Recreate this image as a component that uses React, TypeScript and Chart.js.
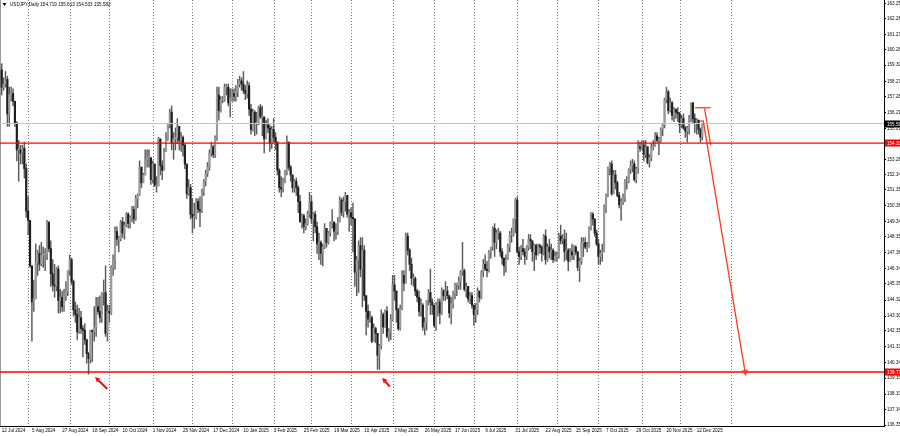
import React, { useEffect, useRef } from "react";
import { Chart, registerables } from "chart.js";

Chart.register(...registerables);

// ---- Data (daily USDJPY bars, 12 Jul 2024 .. 17 Dec 2025) ----
const FIRST_OPEN = 159.0;

const closes = [
  157.9, 158.1, 158.4, 156.2, 157.4, 157.5,
  157.0, 155.6, 153.9, 153.9, 153.7,
  154.0, 152.7, 150.0, 149.4, 146.5,
  144.2, 144.4, 146.7, 147.3, 146.6,
  147.2, 147.2, 147.3, 149.3, 147.6,
  146.0, 145.3, 145.2, 146.3, 144.3,
  144.5, 143.9, 144.6, 144.9, 146.2,
  146.9, 145.5, 143.7, 143.4, 142.3,
  143.2, 142.5, 142.4, 141.8, 140.9,
  140.6, 142.4, 142.3, 142.6, 143.9,
  143.6, 143.2, 144.8, 144.8, 142.2,
  143.6, 143.5, 146.4, 146.9, 148.7,
  148.2, 148.2, 149.3, 148.6, 149.1,
  149.8, 149.2, 149.6, 150.1, 149.5,
  150.8, 151.0, 152.8, 151.8, 152.3,
  153.3, 153.4, 153.4, 152.0, 153.0,
  151.6, 151.6, 154.6, 152.9, 152.6,
  153.8, 154.6, 155.5, 156.3, 154.3,
  154.6, 154.7, 155.4, 154.5, 154.7,
  154.2, 153.0, 151.1, 151.5, 149.8,
  149.6, 149.6, 150.6, 150.1, 150.0,
  151.2, 151.9, 152.4, 152.8, 153.7,
  154.1, 153.6, 154.7, 157.4, 156.4,
  157.1, 157.1, 157.9, 157.9,
  156.9, 157.2,
  157.5, 157.3,
  157.6, 158.1, 158.3, 158.1, 157.7,
  157.5, 158.0, 156.5, 155.2, 156.3,
  155.6, 155.6, 156.6, 156.0, 156.0,
  154.6, 155.5, 155.3, 154.3, 155.2,
  154.7, 154.4, 152.6, 151.5, 151.4,
  151.9, 152.5, 154.4, 152.8, 152.3,
  151.5, 151.9, 151.5, 150.6, 149.3,
  149.7, 149.0, 149.2, 149.8, 150.6,
  149.5, 149.8, 149.0, 147.9, 148.0,
  147.3, 147.7, 148.9, 148.0, 148.6,
  149.2, 149.3, 148.7, 148.7, 149.3,
  150.7, 149.9, 150.6, 151.0, 149.8,
  149.9, 149.6, 149.5, 146.1, 146.9,
  147.8, 146.3, 147.5, 144.6, 143.6,
  143.1, 143.2, 141.7, 142.5, 142.2,
  140.8, 141.4, 143.4, 142.6, 143.6,
  142.0, 142.3, 143.1, 145.3, 144.9,
  143.7, 142.5, 143.8, 145.9, 145.4,
  148.4, 147.5, 146.6, 145.7, 145.7,
  144.9, 144.5, 143.6, 144.0, 142.6,
  142.9, 144.3, 144.8, 144.2, 144.0,
  142.7, 144.0, 144.2, 143.5, 144.9,
  144.6, 144.9, 144.6, 143.5, 144.1,
  144.8, 145.3, 145.3, 145.5, 146.1,
  146.2, 145.0, 145.2, 144.4, 144.6,
  144.0, 143.4, 143.7, 144.9, 144.5,
  146.1, 146.6, 146.3, 146.2, 147.4,
  147.7, 148.9, 148.0, 148.6, 148.6,
  147.4, 147.0, 146.5, 146.9, 147.7,
  148.5, 148.5, 149.5, 150.7, 147.4,
  147.1, 147.6, 147.4, 147.1, 147.7,
  148.2, 148.1, 147.4, 147.8, 147.2,
  147.8, 147.7, 147.3, 148.4, 146.9,
  147.7, 147.4, 147.5, 146.9, 147.1,
  147.1, 148.4, 148.1, 148.2, 147.4,
  147.5, 146.8, 147.4, 147.2, 147.7,
  147.4, 146.4, 146.8, 148.0, 148.0,
  147.7, 147.7, 148.9, 149.8, 149.5,
  148.6, 147.9, 147.1, 147.3, 147.4,
  150.3, 151.0, 152.7, 153.0, 151.1,
  152.3, 151.8, 151.0, 150.4, 150.6,
  150.8, 151.9, 151.9, 152.6, 152.9,
  153.0, 152.0, 152.7, 154.1, 154.0,
  154.2, 153.6, 154.1, 153.1, 153.4,
  154.1, 154.1, 154.8, 154.5, 154.5,
  155.2, 155.5, 157.1, 157.6, 156.4,
  156.9, 156.1, 156.5, 156.3, 156.2,
  155.5, 155.9, 155.3, 155.1, 155.3,
  155.9, 156.9, 155.9, 155.6, 155.8,
  155.2, 154.719, 155.582,
];

const highs = [
  159.4, 158.5, 158.9, 158.6, 157.9, 157.9,
  157.8, 157.0, 155.7, 154.5, 154.2,
  154.2, 154.4, 153.0, 150.9, 149.4,
  146.5, 145.6, 147.9, 147.5, 147.8,
  148.0, 147.7, 147.6, 149.4, 149.1,
  148.1, 146.9, 146.6, 146.4, 146.5,
  145.0, 144.9, 145.0, 145.5, 146.2,
  147.2, 147.0, 145.6, 144.2, 144.0,
  143.8, 143.6, 142.7, 142.8, 141.8,
  141.0, 142.4, 142.4, 143.9, 144.5,
  144.5, 144.6, 144.8, 145.6, 146.5,
  144.0, 144.0, 146.5, 147.2, 149.0,
  149.0, 148.4, 149.4, 149.6, 149.3,
  149.9, 149.9, 149.7, 150.3, 150.3,
  151.0, 151.1, 153.2, 152.7, 152.4,
  153.9, 153.9, 153.9, 153.4, 153.2,
  152.7, 152.2, 154.7, 154.6, 153.2,
  154.0, 155.0, 155.6, 156.5, 156.7,
  155.0, 155.3, 155.9, 155.0, 155.0,
  154.8, 154.3, 153.0, 152.0, 151.7,
  150.8, 150.5, 150.8, 150.8, 150.9,
  151.4, 152.0, 152.6, 153.1, 153.9,
  154.4, 154.2, 154.8, 157.9, 157.9,
  157.3, 157.3, 158.1, 158.1,
  158.1, 157.8,
  157.8, 157.8,
  158.0, 158.4, 158.6, 158.5, 158.9,
  158.0, 158.3, 158.2, 156.8, 156.5,
  156.4, 156.3, 156.7, 156.8, 156.7,
  155.9, 155.8, 155.9, 155.5, 155.4,
  155.9, 155.0, 154.4, 152.7, 152.2,
  152.1, 152.6, 154.8, 154.3, 152.9,
  152.1, 152.0, 152.1, 151.6, 151.0,
  149.8, 149.8, 149.5, 150.0, 151.2,
  151.0, 149.9, 150.0, 149.3, 148.6,
  148.1, 147.9, 149.2, 148.9, 148.7,
  149.3, 150.1, 149.2, 149.2, 149.6,
  150.9, 150.8, 150.9, 151.2, 151.0,
  150.1, 150.2, 150.5, 149.3, 147.1,
  148.1, 148.3, 148.3, 147.8, 144.4,
  144.0, 143.6, 143.3, 142.8, 142.6,
  141.8, 141.5, 143.7, 143.5, 143.7,
  143.9, 142.5, 143.4, 145.9, 145.9,
  144.8, 143.8, 144.0, 146.2, 146.2,
  148.6, 148.6, 147.6, 147.0, 146.0,
  145.8, 145.0, 144.9, 144.4, 144.1,
  143.2, 144.3, 145.0, 146.3, 144.4,
  144.0, 144.2, 144.4, 144.4, 145.1,
  145.0, 145.5, 145.2, 144.6, 144.5,
  144.9, 145.4, 145.4, 145.8, 146.2,
  148.0, 146.3, 145.4, 145.2, 144.8,
  144.8, 144.0, 144.1, 145.1, 144.9,
  146.2, 146.9, 147.2, 146.8, 147.5,
  147.7, 149.0, 149.2, 148.8, 148.9,
  148.7, 147.6, 147.0, 147.2, 147.9,
  148.7, 148.9, 149.5, 150.8, 150.9,
  147.7, 147.8, 148.2, 147.6, 147.8,
  148.5, 148.5, 148.1, 147.9, 147.9,
  147.9, 147.9, 147.8, 148.5, 148.8,
  147.9, 148.2, 147.9, 147.6, 147.4,
  147.4, 148.6, 149.1, 148.5, 148.8,
  148.6, 147.6, 147.6, 147.9, 147.8,
  147.8, 147.4, 147.0, 148.3, 148.3,
  148.3, 148.0, 149.0, 149.9, 149.9,
  149.5, 148.8, 148.2, 147.5, 147.9,
  150.4, 151.1, 152.8, 153.1, 153.2,
  152.6, 152.6, 151.9, 151.2, 150.8,
  151.1, 152.0, 152.2, 152.7, 153.2,
  153.3, 153.2, 152.8, 154.5, 154.4,
  154.5, 154.5, 154.5, 154.1, 153.6,
  154.3, 154.5, 155.0, 155.0, 154.7,
  155.3, 155.6, 157.2, 157.9, 157.7,
  157.2, 157.0, 156.6, 156.5, 156.6,
  156.3, 156.1, 156.2, 155.4, 155.4,
  156.1, 156.9, 156.9, 156.2, 155.9,
  155.8, 155.3, 155.613,
];

const lows = [
  157.4, 157.7, 157.9, 155.4, 155.4, 157.0,
  156.7, 155.4, 153.2, 151.9, 153.0,
  153.0, 152.1, 149.6, 148.5, 146.4,
  141.7, 143.6, 144.4, 145.9, 146.2,
  146.5, 146.4, 146.2, 146.9, 147.4,
  145.2, 144.9, 144.5, 144.9, 143.5,
  143.5, 143.6, 143.6, 144.3, 144.6,
  145.9, 145.3, 143.3, 142.9, 141.8,
  142.2, 142.2, 140.7, 141.5, 140.3,
  139.6, 140.3, 140.4, 141.7, 142.0,
  143.4, 142.9, 142.9, 144.0, 142.0,
  141.7, 142.9, 143.4, 145.9, 146.3,
  147.8, 147.4, 148.1, 148.3, 148.2,
  149.0, 148.9, 148.9, 149.3, 149.2,
  149.4, 150.2, 151.1, 151.5, 151.8,
  152.6, 152.8, 152.8, 151.7, 151.8,
  151.6, 151.2, 151.6, 152.3, 152.0,
  152.8, 153.8, 154.5, 155.3, 153.9,
  153.3, 153.9, 154.3, 153.9, 153.8,
  153.5, 152.7, 150.8, 151.0, 149.5,
  148.6, 148.9, 149.5, 149.9, 149.0,
  149.9, 151.0, 151.6, 152.2, 152.6,
  153.5, 153.4, 153.4, 154.5, 155.8,
  156.3, 156.9, 157.0, 157.4,
  156.7, 156.0,
  157.0, 157.0,
  157.0, 157.3, 157.9, 157.7, 157.5,
  157.1, 157.2, 156.1, 154.9, 155.1,
  154.8, 154.9, 155.5, 155.9, 154.8,
  153.7, 154.6, 155.0, 153.8, 154.0,
  154.4, 153.9, 152.3, 151.2, 150.9,
  151.2, 151.8, 152.3, 152.6, 151.9,
  151.2, 151.2, 151.0, 149.9, 149.3,
  148.9, 148.6, 148.8, 149.1, 149.6,
  149.2, 148.1, 148.6, 147.3, 146.9,
  146.6, 146.5, 147.6, 147.7, 147.9,
  148.4, 148.9, 148.1, 148.2, 148.5,
  149.3, 149.7, 149.6, 150.0, 149.6,
  148.7, 149.1, 147.4, 145.2, 144.6,
  144.8, 145.8, 143.9, 144.3, 142.1,
  142.6, 142.9, 141.6, 141.7, 141.6,
  139.9, 139.9, 141.2, 142.2, 142.6,
  141.9, 141.7, 141.8, 143.0, 144.3,
  142.9, 142.4, 142.4, 143.7, 144.9,
  145.6, 147.2, 146.2, 145.3, 145.2,
  144.6, 144.2, 143.3, 143.3, 142.4,
  142.1, 142.4, 144.0, 143.4, 143.4,
  142.6, 142.4, 143.3, 142.8, 143.4,
  144.3, 144.3, 144.4, 143.2, 142.8,
  143.8, 144.4, 144.6, 145.0, 145.0,
  145.9, 144.9, 144.5, 144.2, 144.1,
  143.8, 142.7, 142.9, 143.4, 144.2,
  144.4, 145.8, 146.2, 145.8, 146.1,
  147.0, 147.5, 147.1, 147.6, 148.2,
  147.1, 146.6, 145.9, 146.1, 146.9,
  147.4, 148.0, 148.4, 148.6, 147.3,
  146.6, 146.9, 147.2, 146.6, 146.9,
  147.5, 147.6, 146.8, 146.2, 146.9,
  147.2, 147.3, 146.8, 147.2, 146.6,
  146.8, 147.0, 146.9, 146.7, 146.8,
  146.8, 147.0, 147.9, 147.9, 146.8,
  146.9, 146.2, 146.9, 146.9, 146.9,
  147.2, 146.2, 145.5, 146.6, 147.1,
  147.6, 147.4, 147.7, 148.8, 149.1,
  148.4, 147.8, 146.6, 146.6, 146.8,
  148.9, 149.9, 150.9, 152.3, 151.0,
  151.5, 151.4, 150.9, 150.2, 149.4,
  150.4, 150.6, 151.4, 151.8, 152.4,
  152.5, 151.9, 151.8, 152.4, 153.8,
  153.9, 153.2, 153.4, 153.0, 152.8,
  153.2, 153.9, 154.1, 154.4, 153.6,
  154.4, 154.8, 155.3, 156.9, 156.2,
  156.3, 155.8, 155.7, 155.9, 155.7,
  155.0, 155.3, 155.2, 154.7, 154.4,
  154.9, 155.7, 155.6, 155.0, 154.9,
  154.9, 154.4, 154.533,
];

// time axis labels (one every 16 daily bars, starting at bar 0)
const xTickLabels = [
  "12 Jul 2024", "5 Aug 2024", "27 Aug 2024", "18 Sep 2024", "10 Oct 2024",
  "1 Nov 2024", "25 Nov 2024", "17 Dec 2024", "10 Jan 2025", "3 Feb 2025",
  "25 Feb 2025", "19 Mar 2025", "10 Apr 2025", "2 May 2025", "26 May 2025",
  "17 Jun 2025", "9 Jul 2025", "31 Jul 2025", "22 Aug 2025", "15 Sep 2025",
  "7 Oct 2025", "29 Oct 2025", "20 Nov 2025", "12 Dec 2025",
];
const LABEL_STEP = 16;
// bar index of first trading day of each month (grid separators)
const monthStartBars = [14, 36, 57, 80, 101, 122, 144, 164, 185, 207, 229, 250, 273, 294, 316, 339, 359, 386];

// price axis labels
const priceTicks = [
  163.25, 162.26, 161.27, 160.28, 159.3, 158.27, 157.28, 156.29, 155.27,
  153.28, 152.34, 151.35, 150.36, 149.34, 148.35, 147.36, 146.34, 145.35,
  144.32, 143.3, 142.35, 141.33, 140.34, 139.35, 138.33, 137.34, 136.35,
];

const TITLE = "USDJPY,Daily 154.719 155.613 154.533 155.582";
const bidPrice = 155.58;
const levelPrices = [154.33, 139.73];

// drawn objects (bar index, price)
const trendSegments = [
  [[367.1, 156.59], [375.4, 156.59]],
  [[372.2, 156.55], [375.4, 154.21]],
  [[369.4, 155.74], [371.9, 155.74]],
];
const arrowObjects = [
  { from: [371.5, 155.74], to: [394.0, 139.48], width: 1.3, head: 6, color: "#ff3a1a" },
  { from: [55.9, 138.65], to: [49.4, 139.41], width: 2, head: 5, color: "#ff0000" },
  { from: [205.5, 138.8], to: [201.5, 139.37], width: 2, head: 5, color: "#ff0000" },
];

const FONT = "'Liberation Sans', Arial, sans-serif";
const FS = 4.6;

export default function App() {
  const ref = useRef<HTMLCanvasElement | null>(null);

  useEffect(() => {
    const canvas = ref.current;
    if (!canvas) return;

    const candles = closes.map((c, i) => {
      const o = i === 0 ? FIRST_OPEN : closes[i - 1];
      return {
        x: i,
        o,
        c,
        h: Math.max(highs[i], o, c),
        l: Math.min(lows[i], o, c),
      };
    });

    const X_MIN = -0.9;
    const X_MAX = 467.2;

    const hLine = (price: number, color: string, width: number) => ({
      type: "line" as const,
      data: [
        { x: X_MIN - 5, y: price },
        { x: X_MAX + 5, y: price },
      ],
      borderColor: color,
      borderWidth: width,
      pointRadius: 0,
      order: 0,
    });

    const overlay = {
      id: "overlay",
      beforeDatasetsDraw(chart: any) {
        const { ctx, chartArea, scales } = chart;
        const x = scales.x;
        ctx.save();
        ctx.strokeStyle = "#7a7a7a";
        ctx.lineWidth = 1;
        ctx.setLineDash([1, 2]);
        for (const b of monthStartBars) {
          const px = Math.round(x.getPixelForValue(b)) + 0.5;
          ctx.beginPath();
          ctx.moveTo(px, chartArea.top);
          ctx.lineTo(px, chartArea.bottom);
          ctx.stroke();
        }
        ctx.setLineDash([]);
        ctx.strokeStyle = "#9a9a9a";
        ctx.beginPath();
        ctx.moveTo(0.5, chartArea.top);
        ctx.lineTo(0.5, chartArea.bottom);
        ctx.stroke();
        ctx.restore();
      },
      afterDatasetsDraw(chart: any) {
        const { ctx, scales } = chart;
        const x = scales.x;
        const y = scales.y;
        ctx.save();
        for (const a of arrowObjects) {
          const x1 = x.getPixelForValue(a.from[0]);
          const y1 = y.getPixelForValue(a.from[1]);
          const x2 = x.getPixelForValue(a.to[0]);
          const y2 = y.getPixelForValue(a.to[1]);
          const ang = Math.atan2(y2 - y1, x2 - x1);
          const hx = x2 - Math.cos(ang) * a.head;
          const hy = y2 - Math.sin(ang) * a.head;
          ctx.strokeStyle = a.color;
          ctx.fillStyle = a.color;
          ctx.lineWidth = a.width;
          ctx.beginPath();
          ctx.moveTo(x1, y1);
          ctx.lineTo(hx, hy);
          ctx.stroke();
          const w = a.head * 0.5;
          ctx.beginPath();
          ctx.moveTo(x2, y2);
          ctx.lineTo(hx + Math.sin(ang) * w, hy - Math.cos(ang) * w);
          ctx.lineTo(hx - Math.sin(ang) * w, hy + Math.cos(ang) * w);
          ctx.closePath();
          ctx.fill();
        }
        ctx.restore();
      },
      afterDraw(chart: any) {
        const { ctx, chartArea, scales } = chart;
        const y = scales.y;
        ctx.save();
        ctx.font = `${FS}px ${FONT}`;
        ctx.textBaseline = "middle";
        const box = (price: number, bg: string) => {
          const py = Math.round(y.getPixelForValue(price));
          ctx.fillStyle = bg;
          ctx.fillRect(chartArea.right + 1, py - 3.5, 16, 7);
          ctx.fillStyle = "#ffffff";
          ctx.textAlign = "left";
          ctx.fillText(price.toFixed(2), chartArea.right + 3, py + 0.3);
        };
        box(bidPrice, "#000000");
        for (const p of levelPrices) box(p, "#ff0000");
        // header
        ctx.fillStyle = "#000000";
        ctx.textAlign = "left";
        ctx.beginPath();
        ctx.moveTo(2.5, 3);
        ctx.lineTo(6.5, 3);
        ctx.lineTo(4.5, 6);
        ctx.closePath();
        ctx.fill();
        ctx.fillText(TITLE, 10, 4.6);
        ctx.restore();
      },
    };

    const chart = new Chart(canvas, {
      type: "bar",
      data: {
        datasets: [
          ...levelPrices.map((p) => hLine(p, "#ff0000", 1.4)),
          hLine(bidPrice, "#c4c4c4", 1),
          ...trendSegments.map((seg) => ({
            type: "line" as const,
            data: seg.map((p) => ({ x: p[0], y: p[1] })),
            borderColor: "#ff3a1a",
            borderWidth: 1.3,
            pointRadius: 0,
            order: 0,
          })),
          {
            type: "bar" as const,
            data: candles.map((k) => ({ x: k.x, y: [k.o, k.c] })),
            backgroundColor: candles.map((k) => (k.c >= k.o ? "#9a9a9a" : "#1e1e1e")),
            barThickness: 1.5,
            minBarLength: 1,
            grouped: false,
            order: 1,
          },
          {
            type: "bar" as const,
            data: candles.map((k) => ({ x: k.x, y: [k.l, k.h] })),
            backgroundColor: "#5a5a5a",
            barThickness: 0.8,
            grouped: false,
            order: 2,
          },
        ] as any,
      },
      options: {
        animation: false,
        responsive: false,
        devicePixelRatio: 1,
        layout: { padding: 0 },
        plugins: {
          legend: { display: false },
          tooltip: { enabled: false },
          title: { display: false },
        },
        scales: {
          x: {
            type: "linear",
            min: X_MIN,
            max: X_MAX,
            offset: false,
            grid: { display: false, drawTicks: false },
            border: { display: true, color: "#000000", width: 1 },
            afterBuildTicks: (s: any) => {
              s.ticks = xTickLabels.map((_, k) => ({ value: k * LABEL_STEP }));
            },
            afterFit: (s: any) => {
              s.height = 10;
              s.paddingLeft = 0;
              s.paddingRight = 0;
            },
            ticks: {
              autoSkip: false,
              maxRotation: 0,
              minRotation: 0,
              align: "start",
              padding: 2,
              color: "#000000",
              font: { size: FS, family: FONT },
              callback: (_v: any, i: number) => xTickLabels[i],
            },
          },
          y: {
            type: "linear",
            position: "right",
            min: 136.29,
            max: 163.46,
            grid: { drawOnChartArea: false, drawTicks: true, tickLength: 2, color: "#000000" },
            border: { display: true, color: "#000000", width: 1 },
            afterBuildTicks: (s: any) => {
              s.ticks = priceTicks.map((v) => ({ value: v }));
            },
            afterFit: (s: any) => {
              s.width = 16;
              s.paddingTop = 0;
              s.paddingBottom = 0;
            },
            ticks: {
              autoSkip: false,
              padding: 1,
              color: "#000000",
              font: { size: FS, family: FONT },
              callback: (v: any) => Number(v).toFixed(2),
            },
          },
        },
      } as any,
      plugins: [overlay],
    });

    return () => chart.destroy();
  }, []);

  return (
    <div style={{ position: "fixed", left: 0, top: 0, width: 900, height: 436, background: "#ffffff" }}>
      <canvas ref={ref} width={900} height={436} style={{ display: "block" }} />
    </div>
  );
}
